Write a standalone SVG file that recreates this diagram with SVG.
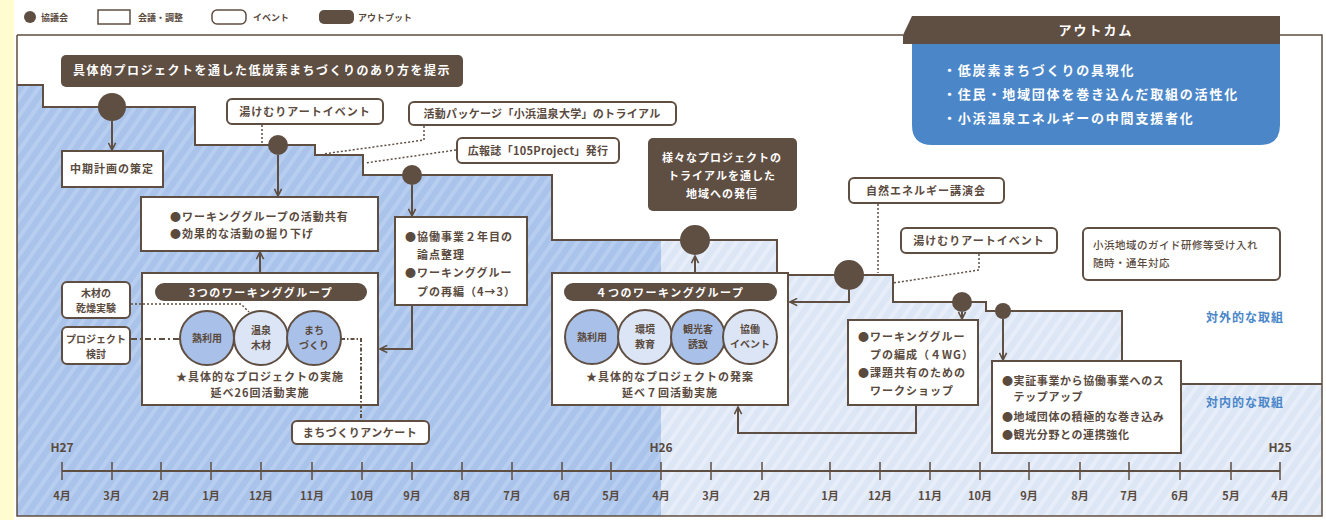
<svg xmlns="http://www.w3.org/2000/svg" width="1326" height="520" viewBox="0 0 1326 520">
<style>
text{font-family:"Noto Sans CJK JP","Noto Sans",sans-serif;font-weight:bold;fill:#5a4a3e}
.t{font-size:11px;letter-spacing:1px}
.w{fill:#fff}
.box{fill:#fff;stroke:#5f4e42;stroke-width:2}
.dark{fill:#5f4e42}
.dot{fill:#5f4e42}
.ln{fill:none;stroke:#5f4e42;stroke-width:2}
.arr{fill:none;stroke:#5f4e42;stroke-width:2;marker-end:url(#ah)}
.dt{fill:none;stroke:#5f4e42;stroke-width:1.5;stroke-dasharray:2 2}
.c1{fill:#a9c1e8;stroke:#5f4e42;stroke-width:2}
.c2{fill:#dbe5f5;stroke:#5f4e42;stroke-width:2}
.mo{font-size:11px}
.blue{fill:#4a86c8;font-size:12px;letter-spacing:1px}
</style>
<defs>
<marker id="ah" viewBox="0 0 10 10" refX="9" refY="5" markerWidth="9" markerHeight="9" markerUnits="userSpaceOnUse" orient="auto">
<path d="M1,1 L9,5 L1,9" fill="none" stroke="#5f4e42" stroke-width="1.8"/>
</marker>
<pattern id="pd" width="10" height="10" patternUnits="userSpaceOnUse" patternTransform="rotate(35)">
<rect width="10" height="10" fill="#a9c3ea"/><rect width="4" height="10" fill="#b8cef0"/>
</pattern>
<pattern id="pl" width="10" height="10" patternUnits="userSpaceOnUse" patternTransform="rotate(35)">
<rect width="10" height="10" fill="#dce6f5"/><rect width="4" height="10" fill="#e7eef9"/>
</pattern>
<clipPath id="reg"><path d="M17,85 H43 V107 H195 V145 H315 V155 H363 V175 H552 V240 H777 V275 H893 V302 H986 V311 H1122 V384 H1322 V516 H17 Z"/></clipPath>
</defs>
<rect x="0" y="0" width="14" height="520" fill="#fffcd0"/>
<rect x="14" y="0" width="1312" height="520" fill="#fff"/>
<g id="regions">
<rect x="17" y="80" width="1305" height="436" fill="url(#pl)" clip-path="url(#reg)"/>
<rect x="17" y="80" width="644" height="436" fill="url(#pd)" clip-path="url(#reg)"/>
<path class="ln" d="M17,85 H43 V107 H195 V145 H315 V155 H363 V175 H552 V240 H777 V275 H893 V302 H986 V311 H1122 V384 H1322"/>
</g>
<g id="frame">
<path d="M17,35 H903 M1280,35 H1322 V516 H17 V35" fill="none" stroke="#5f4e42" stroke-width="1.5"/>
</g>
<g id="legend">
<circle cx="30" cy="17" r="6" class="dot"/><text x="41" y="21" style="font-size:9px">協議会</text>
<rect x="98" y="10" width="32" height="14" fill="#fff" stroke="#5f4e42" stroke-width="1.5"/><text x="138" y="21" style="font-size:9px">会議・調整</text>
<rect x="212" y="10" width="34" height="14" rx="5" fill="#fff" stroke="#5f4e42" stroke-width="1.5"/><text x="253" y="21" style="font-size:9px">イベント</text>
<rect x="319" y="10" width="35" height="14" rx="5" class="dark"/><text x="358" y="21" style="font-size:9px">アウトプット</text>
</g>
<g id="outcome">
<path d="M903,44 V35 L912,16 H1280 V44 Z" class="dark"/>
<path d="M912,44 H1280 V125 Q1280,145 1260,145 H932 Q912,145 912,125 Z" fill="#4a86c8"/>
<text x="1096" y="35" class="w" text-anchor="middle" style="font-size:13px;letter-spacing:2px">アウトカム</text>
<text x="943" y="75" class="w" style="font-size:13px;letter-spacing:1.8px">・低炭素まちづくりの具現化</text>
<text x="943" y="99" class="w" style="font-size:13px;letter-spacing:1.8px">・住民・地域団体を巻き込んだ取組の活性化</text>
<text x="943" y="123" class="w" style="font-size:13px;letter-spacing:1.8px">・小浜温泉エネルギーの中間支援者化</text>
</g>
<g id="n-banner">
<rect x="61" y="55" width="402" height="32" rx="5" class="dark"/>
<text x="262" y="75" class="w" text-anchor="middle" style="font-size:12px;letter-spacing:1.5px">具体的プロジェクトを通した低炭素まちづくりのあり方を提示</text>
</g>
<g id="n-c1"><circle cx="112" cy="107" r="14" class="dot"/></g>
<g id="n-c2"><circle cx="278" cy="145" r="10" class="dot"/></g>
<g id="n-c3"><circle cx="412" cy="175" r="10" class="dot"/></g>
<g id="n-c4"><circle cx="695" cy="240" r="15" class="dot"/></g>
<g id="n-c5"><circle cx="849" cy="275" r="15" class="dot"/></g>
<g id="n-c6"><circle cx="962" cy="302" r="10" class="dot"/></g>
<g id="n-c7"><circle cx="1003" cy="311" r="8" class="dot"/></g>
<g id="n-plan">
<rect x="62" y="151" width="101" height="36" class="box"/>
<text x="112" y="173" class="t" text-anchor="middle">中期計画の策定</text>
</g>
<g id="n-art1">
<rect x="227" y="99" width="156" height="25" rx="5" class="box"/>
<text x="305" y="116" class="t" text-anchor="middle">湯けむりアートイベント</text>
</g>
<g id="n-package">
<rect x="409" y="102" width="267" height="23" rx="5" class="box"/>
<text x="542" y="118" class="t" text-anchor="middle" style="letter-spacing:0.3px">活動パッケージ「小浜温泉大学」のトライアル</text>
</g>
<g id="n-pr">
<rect x="457" y="138" width="162" height="25" rx="5" class="box"/>
<text x="538" y="155" class="t" text-anchor="middle" style="letter-spacing:0.3px">広報誌「105Project」発行</text>
</g>
<g id="n-share">
<rect x="141" y="197" width="237" height="54" class="box"/>
<text x="170" y="221" class="t">●ワーキンググループの活動共有</text>
<text x="170" y="238" class="t">●効果的な活動の掘り下げ</text>
</g>
<g id="n-year2">
<rect x="395" y="217" width="132" height="88" class="box"/>
<text x="405" y="241" class="t">●協働事業２年目の</text>
<text x="405" y="259" class="t">　論点整理</text>
<text x="405" y="277" class="t">●ワーキンググルー</text>
<text x="405" y="296" class="t">　プの再編（4→3）</text>
</g>
<g id="n-wg3">
<rect x="142" y="273" width="236" height="132" class="box"/>
<rect x="155" y="283" width="212" height="18" rx="9" class="dark"/>
<text x="261" y="297" class="w" text-anchor="middle" style="font-size:11px;letter-spacing:1.5px">3つのワーキンググループ</text>
<circle cx="207" cy="338" r="27" class="c1"/>
<circle cx="261" cy="338" r="27" class="c2"/>
<circle cx="314" cy="338" r="27" class="c1"/>
<text x="207" y="342" text-anchor="middle" style="font-size:10px">熱利用</text>
<text x="261" y="334" text-anchor="middle" style="font-size:10px">温泉</text>
<text x="261" y="349" text-anchor="middle" style="font-size:10px">木材</text>
<text x="314" y="334" text-anchor="middle" style="font-size:10px">まち</text>
<text x="314" y="349" text-anchor="middle" style="font-size:10px">づくり</text>
<text x="260" y="381" class="t" text-anchor="middle">★具体的なプロジェクトの実施</text>
<text x="260" y="397" class="t" text-anchor="middle">延べ26回活動実施</text>
</g>
<g id="n-wood">
<rect x="62" y="282" width="68" height="36" rx="5" class="box"/>
<text x="96" y="297" text-anchor="middle" style="font-size:10px">木材の</text>
<text x="96" y="312" text-anchor="middle" style="font-size:10px">乾燥実験</text>
</g>
<g id="n-study">
<rect x="62" y="327" width="68" height="37" rx="5" class="box"/>
<text x="96" y="343" text-anchor="middle" style="font-size:10px">プロジェクト</text>
<text x="96" y="358" text-anchor="middle" style="font-size:10px">検討</text>
</g>
<g id="n-survey">
<rect x="292" y="421" width="137" height="23" rx="5" class="box"/>
<text x="360" y="437" class="t" text-anchor="middle" style="letter-spacing:0.5px">まちづくりアンケート</text>
</g>
<g id="n-output">
<rect x="648" y="138" width="149" height="73" rx="5" class="dark"/>
<text x="722" y="162" class="w t" text-anchor="middle">様々なプロジェクトの</text>
<text x="722" y="180" class="w t" text-anchor="middle">トライアルを通した</text>
<text x="722" y="198" class="w t" text-anchor="middle">地域への発信</text>
</g>
<g id="n-wg4">
<rect x="552" y="273" width="236" height="132" class="box"/>
<rect x="564" y="283" width="213" height="18" rx="9" class="dark"/>
<text x="670" y="297" class="w" text-anchor="middle" style="font-size:11px;letter-spacing:1.5px">４つのワーキンググループ</text>
<circle cx="592" cy="337" r="27" class="c1"/>
<circle cx="645" cy="337" r="27" class="c2"/>
<circle cx="698" cy="337" r="27" class="c1"/>
<circle cx="750" cy="337" r="27" class="c2"/>
<text x="592" y="341" text-anchor="middle" style="font-size:10px">熱利用</text>
<text x="645" y="333" text-anchor="middle" style="font-size:10px">環境</text>
<text x="645" y="348" text-anchor="middle" style="font-size:10px">教育</text>
<text x="698" y="333" text-anchor="middle" style="font-size:10px">観光客</text>
<text x="698" y="348" text-anchor="middle" style="font-size:10px">誘致</text>
<text x="750" y="333" text-anchor="middle" style="font-size:10px">協働</text>
<text x="750" y="348" text-anchor="middle" style="font-size:10px">イベント</text>
<text x="670" y="381" class="t" text-anchor="middle">★具体的なプロジェクトの発案</text>
<text x="670" y="397" class="t" text-anchor="middle">延べ７回活動実施</text>
</g>
<g id="n-lecture">
<rect x="849" y="178" width="155" height="25" rx="5" class="box"/>
<text x="926" y="195" class="t" text-anchor="middle">自然エネルギー講演会</text>
</g>
<g id="n-art2">
<rect x="901" y="228" width="156" height="25" rx="5" class="box"/>
<text x="979" y="245" class="t" text-anchor="middle">湯けむりアートイベント</text>
</g>
<g id="n-guide">
<rect x="1083" y="228" width="197" height="52" rx="5" class="box"/>
<text x="1093" y="249" style="font-size:10.5px;font-weight:500;letter-spacing:0.5px">小浜地域のガイド研修等受け入れ</text>
<text x="1093" y="267" style="font-size:10.5px;font-weight:500;letter-spacing:0.5px">随時・通年対応</text>
</g>
<g id="n-form">
<rect x="848" y="320" width="130" height="85" class="box"/>
<text x="858" y="341" class="t">●ワーキンググルー</text>
<text x="858" y="359" class="t">　プの編成（４WG）</text>
<text x="858" y="377" class="t">●課題共有のための</text>
<text x="858" y="395" class="t">　ワークショップ</text>
</g>
<g id="n-step">
<rect x="992" y="361" width="189" height="92" class="box"/>
<text x="1002" y="385" class="t" style="letter-spacing:0.6px">●実証事業から協働事業へのス</text>
<text x="1002" y="401" class="t" style="letter-spacing:0.6px">　テップアップ</text>
<text x="1002" y="421" class="t" style="letter-spacing:0.6px">●地域団体の積極的な巻き込み</text>
<text x="1002" y="439" class="t" style="letter-spacing:0.6px">●観光分野との連携強化</text>
</g>
<g id="labels">
<text x="1245" y="322" class="blue" text-anchor="middle">対外的な取組</text>
<text x="1245" y="407" class="blue" text-anchor="middle">対内的な取組</text>
</g>
<g id="connectors">
<line class="arr" x1="112" y1="121" x2="112" y2="150"/>
<line class="arr" x1="278" y1="155" x2="278" y2="196"/>
<line class="arr" x1="412" y1="185" x2="412" y2="216"/>
<line class="arr" x1="260" y1="272" x2="260" y2="252"/>
<path class="arr" d="M412,306 V349 H380"/>
<line class="arr" x1="695" y1="272" x2="695" y2="256"/>
<path class="arr" d="M849,290 V302 H790"/>
<line class="arr" x1="962" y1="312" x2="962" y2="319"/>
<path class="arr" d="M916,406 V433 H738 V407"/>
<line class="arr" x1="1003" y1="319" x2="1003" y2="360"/>
<path class="dt" d="M262,125 V143"/>
<path class="dt" d="M424,126 V140 L323,154"/>
<path class="dt" d="M456,150 L365,163"/>
<path class="dt" d="M878,204 V273"/>
<path class="dt" d="M979,254 V270 L893,283"/>
<path class="dt" d="M131,304 H241 L249,312"/>
<path d="M131,339 H180" fill="none" stroke="#5f4e42" stroke-width="2" stroke-dasharray="6 3 2 3"/>
<path d="M341,339 H361 V420" fill="none" stroke="#5f4e42" stroke-width="2" stroke-dasharray="4 2 1.5 2"/>
</g>
<g id="timeline">
<line x1="62" y1="471" x2="1280" y2="471" stroke="#5f4e42" stroke-width="2"/>
<g stroke="#5f4e42" stroke-width="1.5">
<line x1="62" y1="462" x2="62" y2="480"/><line x1="112" y1="462" x2="112" y2="480"/><line x1="161" y1="462" x2="161" y2="480"/><line x1="211" y1="462" x2="211" y2="480"/><line x1="261" y1="462" x2="261" y2="480"/><line x1="312" y1="462" x2="312" y2="480"/><line x1="362" y1="462" x2="362" y2="480"/><line x1="412" y1="462" x2="412" y2="480"/><line x1="462" y1="462" x2="462" y2="480"/><line x1="512" y1="462" x2="512" y2="480"/><line x1="562" y1="462" x2="562" y2="480"/><line x1="611" y1="462" x2="611" y2="480"/><line x1="661" y1="462" x2="661" y2="480"/>
<line x1="711" y1="462" x2="711" y2="480"/><line x1="762" y1="462" x2="762" y2="480"/><line x1="830" y1="462" x2="830" y2="480"/><line x1="880" y1="462" x2="880" y2="480"/><line x1="930" y1="462" x2="930" y2="480"/><line x1="980" y1="462" x2="980" y2="480"/><line x1="1029" y1="462" x2="1029" y2="480"/><line x1="1080" y1="462" x2="1080" y2="480"/><line x1="1129" y1="462" x2="1129" y2="480"/><line x1="1180" y1="462" x2="1180" y2="480"/><line x1="1231" y1="462" x2="1231" y2="480"/><line x1="1280" y1="462" x2="1280" y2="480"/>
</g>
<g class="mo" text-anchor="middle">
<text x="62" y="500" class="mo">4月</text><text x="112" y="500" class="mo">3月</text><text x="161" y="500" class="mo">2月</text><text x="211" y="500" class="mo">1月</text><text x="261" y="500" class="mo">12月</text><text x="312" y="500" class="mo">11月</text><text x="362" y="500" class="mo">10月</text><text x="412" y="500" class="mo">9月</text><text x="462" y="500" class="mo">8月</text><text x="512" y="500" class="mo">7月</text><text x="562" y="500" class="mo">6月</text><text x="611" y="500" class="mo">5月</text><text x="661" y="500" class="mo">4月</text>
<text x="711" y="500" class="mo">3月</text><text x="762" y="500" class="mo">2月</text><text x="830" y="500" class="mo">1月</text><text x="880" y="500" class="mo">12月</text><text x="930" y="500" class="mo">11月</text><text x="980" y="500" class="mo">10月</text><text x="1029" y="500" class="mo">9月</text><text x="1080" y="500" class="mo">8月</text><text x="1129" y="500" class="mo">7月</text><text x="1180" y="500" class="mo">6月</text><text x="1231" y="500" class="mo">5月</text><text x="1280" y="500" class="mo">4月</text>
</g>
<text x="62" y="452" text-anchor="middle" style="font-size:12px">H27</text>
<text x="661" y="452" text-anchor="middle" style="font-size:12px">H26</text>
<text x="1280" y="452" text-anchor="middle" style="font-size:12px">H25</text>
</g>
</svg>
